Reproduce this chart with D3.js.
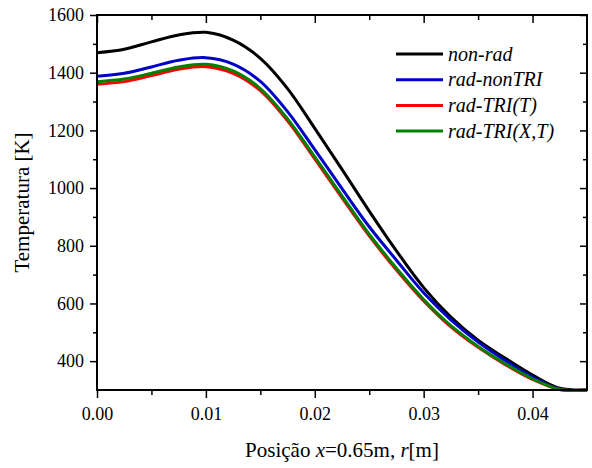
<!DOCTYPE html>
<html>
<head>
<meta charset="utf-8">
<script src="https://cdn.jsdelivr.net/npm/d3@7"></script>
<style>
  body { margin: 0; background: #fff; }
  text { font-family: "Liberation Serif", "Times New Roman", serif; fill: #000; }
</style>
</head>
<body>
<script>
// posições radiais (m)
var positions = [0, 0.0025, 0.005, 0.0075, 0.01, 0.0125, 0.015, 0.0175, 0.02, 0.0225,
                 0.025, 0.0275, 0.03, 0.0325, 0.035, 0.0375, 0.04, 0.0425, 0.045];

// temperaturas (K)
var nonRad      = [1469, 1481, 1507, 1531, 1540, 1513, 1450, 1345, 1207, 1065, 920, 782, 655, 553, 473, 410, 352, 306, 300];
var radNonTRI   = [1388, 1398, 1420, 1443, 1452, 1430, 1370, 1265, 1133, 998, 866, 750, 637, 543, 466, 402, 345, 303, 300];
var radTRI_T    = [1360, 1369, 1390, 1412, 1421, 1398, 1338, 1233, 1101, 966, 834, 716, 609, 519, 448, 388, 337, 302, 300];
var radTRI_XT   = [1369, 1378, 1398, 1420, 1429, 1406, 1345, 1240, 1108, 973, 840, 722, 614, 523, 451, 391, 339, 302, 300];

var seriesNames  = ['non-rad', 'rad-nonTRI', 'rad-TRI(T)', 'rad-TRI(X,T)'];
var seriesColors = ['#000000', '#0000c8', '#ff0000', '#008000'];
var seriesValues = [nonRad, radNonTRI, radTRI_T, radTRI_XT];

var xTicks = [0, 0.01, 0.02, 0.03, 0.04];
var yTicks = [400, 600, 800, 1000, 1200, 1400, 1600];

function drawChart() {
    var width = 592, height = 468;
    var pLeft = 97, pTop = 15, pRight = 587, pBottom = 390;

    var svg = d3.select('body').append('svg')
        .attr('width', width)
        .attr('height', height);

    var x = d3.scaleLinear().domain([0, 0.045]).range([pLeft, pRight]);
    var y = d3.scaleLinear().domain([300, 1600]).range([pBottom, pTop]);

    // linhas (verde por cima do vermelho)
    var line = d3.line()
        .x(function(d) { return x(d[0]); })
        .y(function(d) { return y(d[1]); })
        .curve(d3.curveCatmullRom.alpha(0.5));

    var plot = svg.append('g');
    seriesValues.forEach(function(vals, i) {
        var pts = positions.map(function(p, k) { return [p, vals[k]]; });
        plot.append('path')
            .attr('fill', 'none')
            .attr('stroke', seriesColors[i])
            .attr('stroke-width', 3)
            .attr('stroke-linejoin', 'round')
            .attr('d', line(pts));
    });

    // eixos
    var xMinor = [0.005, 0.015, 0.025, 0.035];
    var yMinor = [500, 700, 900, 1100, 1300, 1500];

    function styleAxis(g) {
        g.select('.domain').remove();
        g.selectAll('line').attr('stroke', '#000').attr('stroke-width', 1.5);
        g.selectAll('text').attr('font-size', 18).attr('font-family', '"Liberation Serif", serif');
    }

    svg.append('g').attr('transform', 'translate(0,' + pBottom + ')')
        .call(d3.axisBottom(x).tickValues(xTicks).tickFormat(d3.format('.2f')).tickSize(8).tickPadding(9))
        .call(styleAxis);
    svg.append('g').attr('transform', 'translate(0,' + pBottom + ')')
        .call(d3.axisBottom(x).tickValues(xMinor).tickFormat('').tickSize(5))
        .call(styleAxis);
    svg.append('g').attr('transform', 'translate(' + pLeft + ',0)')
        .call(d3.axisLeft(y).tickValues(yTicks).tickFormat(d3.format('d')).tickSize(7).tickPadding(6))
        .call(styleAxis);
    svg.append('g').attr('transform', 'translate(' + pLeft + ',0)')
        .call(d3.axisLeft(y).tickValues(yMinor).tickFormat('').tickSize(4))
        .call(styleAxis);

    // topo e direita: marcas para dentro
    svg.append('g').attr('transform', 'translate(0,' + pTop + ')')
        .call(d3.axisTop(x).tickValues(xTicks).tickFormat('').tickSize(-8))
        .call(styleAxis);
    svg.append('g').attr('transform', 'translate(0,' + pTop + ')')
        .call(d3.axisTop(x).tickValues(xMinor).tickFormat('').tickSize(-5))
        .call(styleAxis);
    svg.append('g').attr('transform', 'translate(' + pRight + ',0)')
        .call(d3.axisRight(y).tickValues(yTicks).tickFormat('').tickSize(-7))
        .call(styleAxis);
    svg.append('g').attr('transform', 'translate(' + pRight + ',0)')
        .call(d3.axisRight(y).tickValues(yMinor).tickFormat('').tickSize(-4))
        .call(styleAxis);

    // moldura
    svg.append('rect')
        .attr('x', pLeft).attr('y', pTop)
        .attr('width', pRight - pLeft).attr('height', pBottom - pTop)
        .attr('fill', 'none').attr('stroke', '#000').attr('stroke-width', 2);

    // títulos
    var xTitle = svg.append('text')
        .attr('x', (pLeft + pRight) / 2).attr('y', 457)
        .attr('text-anchor', 'middle')
        .attr('font-size', 21);
    xTitle.append('tspan').text('Posição ');
    xTitle.append('tspan').attr('font-style', 'italic').text('x');
    xTitle.append('tspan').text('=0.65m, ');
    xTitle.append('tspan').attr('font-style', 'italic').text('r');
    xTitle.append('tspan').text('[m]');

    svg.append('text')
        .attr('transform', 'translate(29,' + (pTop + pBottom) / 2 + ') rotate(-90)')
        .attr('text-anchor', 'middle')
        .attr('font-size', 21)
        .text('Temperatura [K]');

    // legenda
    var legend = svg.append('g').attr('transform', 'translate(396,54)');
    seriesNames.forEach(function(name, i) {
        var row = legend.append('g').attr('transform', 'translate(0,' + (i * 25.7) + ')');
        row.append('line')
            .attr('x1', 0).attr('x2', 47)
            .attr('stroke', seriesColors[i]).attr('stroke-width', 3);
        row.append('text')
            .attr('x', 52).attr('y', 6.5)
            .attr('font-size', 20)
            .attr('font-style', 'italic')
            .text(name);
    });
}

drawChart();
</script>
</body>
</html>
